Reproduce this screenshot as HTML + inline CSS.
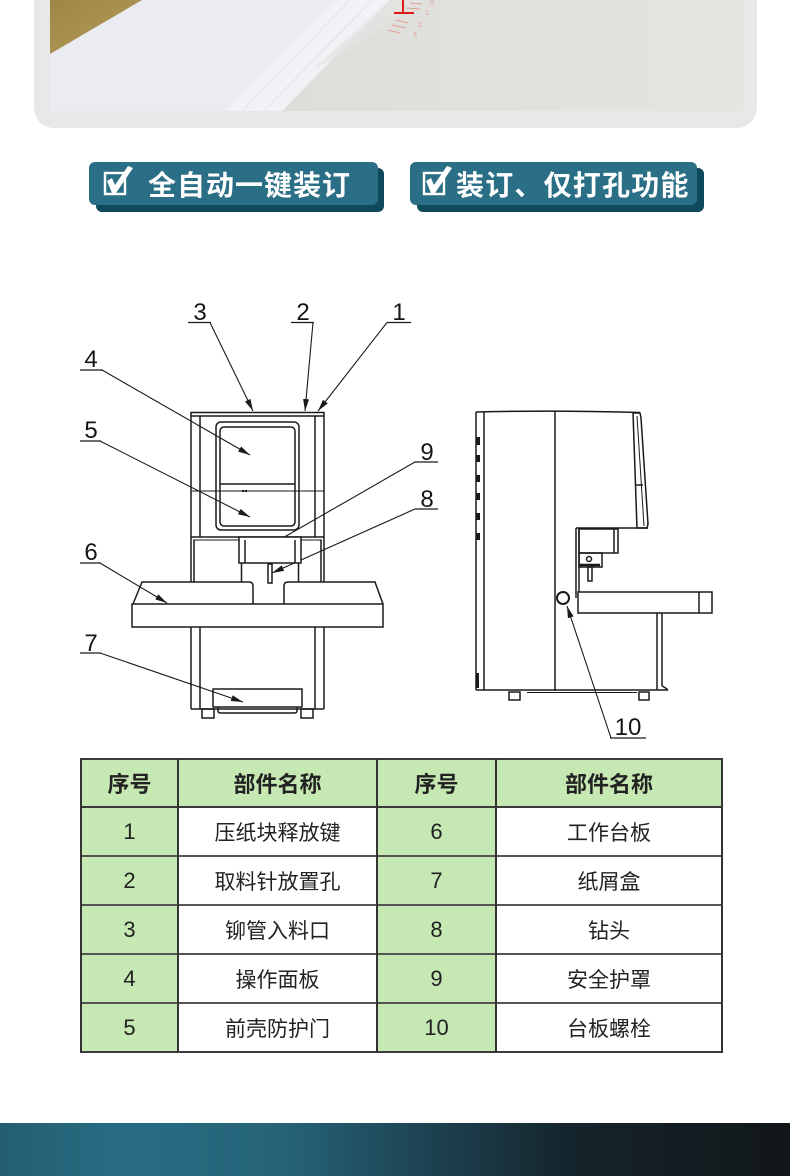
<!DOCTYPE html>
<html>
<head>
<meta charset="utf-8">
<style>
  html,body{margin:0;padding:0;}
  body{width:790px;height:1176px;position:relative;overflow:hidden;background:#fff;
       font-family:"Liberation Sans","Noto Sans CJK SC",sans-serif;}
  .abs{position:absolute;}
  .btnS{position:absolute;background:#0f4a5c;border-radius:6px;}
  .btnF{position:absolute;background:#2b6f86;border-radius:6px;}
  .btxt{position:absolute;color:#fff;font-size:28px;line-height:28px;font-weight:bold;letter-spacing:1px;
        font-family:"Noto Sans CJK SC","WenQuanYi Zen Hei",sans-serif;white-space:nowrap;}
  .cell{position:absolute;display:flex;align-items:center;justify-content:center;color:#222;}
  .g{background:#c6e8b3;}
  .hd{font-family:"Noto Sans CJK SC",sans-serif;font-weight:bold;font-size:22px;}
  .num{font-family:"Liberation Sans",sans-serif;font-size:22px;}
  .nm{font-family:"Liberation Sans","Noto Sans CJK SC",sans-serif;font-size:21px;}
  .hl{position:absolute;height:2px;background:#3a3a3a;}
  .vl{position:absolute;width:2px;background:#333;}
</style>
</head>
<body>

<!-- top photo card -->
<div class="abs" style="left:34px;top:-20px;width:723px;height:148px;background:#e8e8e6;border-radius:20px;"></div>
<svg class="abs" style="left:50px;top:0;" width="693" height="111" viewBox="0 0 693 111">
  <defs>
    <linearGradient id="bgG" x1="0" y1="0" x2="1" y2="0">
      <stop offset="0" stop-color="#d9d9d5"/>
      <stop offset="0.6" stop-color="#e0e0dc"/>
      <stop offset="1" stop-color="#e4e4e1"/>
    </linearGradient>
    <linearGradient id="goldG" x1="0" y1="0" x2="1" y2="1">
      <stop offset="0" stop-color="#9f8644"/>
      <stop offset="1" stop-color="#b29b5c"/>
    </linearGradient>
  </defs>
  <rect x="0" y="0" width="693" height="111" fill="url(#bgG)"/>
  <polygon points="0,0 340,0 232,111 0,111" fill="#ebebf2"/>
  <polygon points="285,0 340,0 232,111 175,111" fill="#f1f1f6"/>
  <line x1="300" y1="0" x2="192" y2="111" stroke="#e2e2ea" stroke-width="1"/>
  <line x1="322" y1="0" x2="214" y2="111" stroke="#e3e3ea" stroke-width="1"/>
  <polygon points="0,0 92,0 0,54" fill="url(#goldG)"/>
  <polygon points="340,0 372,0 300,50 262,70" fill="#e6e4e2" opacity="0.7"/>
  <!-- red marks -->
  <rect x="352" y="0" width="2" height="12" fill="#e01818"/>
  <rect x="344" y="12" width="20" height="2" fill="#e01818"/>
  <g stroke="#e0a394" stroke-width="1">
    <line x1="360" y1="3" x2="372" y2="4"/>
    <line x1="356" y1="8" x2="370" y2="9"/>
    <line x1="346" y1="20" x2="358" y2="23"/>
    <line x1="342" y1="25" x2="356" y2="28"/>
    <line x1="338" y1="30" x2="350" y2="33"/>
  </g>
  <g fill="#e0a394" font-size="7" font-family="Liberation Sans">
    <text x="380" y="5">0</text><text x="375" y="15">1</text><text x="368" y="27">2</text><text x="363" y="37">3</text>
  </g>
</svg>

<!-- buttons -->
<div class="btnS" style="left:96px;top:168px;width:288px;height:44px;"></div>
<div class="btnF" style="left:89px;top:162px;width:289px;height:43px;"></div>
<div class="btnS" style="left:417px;top:168px;width:287px;height:44px;"></div>
<div class="btnF" style="left:410px;top:162px;width:287px;height:43px;"></div>

<svg class="abs" style="left:0;top:0;" width="790" height="230">
  <g fill="none" stroke="#fff" stroke-width="2.4">
    <rect x="105" y="173" width="20" height="21"/>
    <rect x="424" y="173" width="20" height="21"/>
  </g>
  <g fill="#fff">
    <path d="M107,181 L112,178 L115,185 L128,166 L133,168 L116,193 L112,193 Z"/>
    <path d="M426,181 L431,178 L434,185 L447,166 L452,168 L435,193 L431,193 Z"/>
  </g>
</svg>
<div class="btxt" style="left:148px;top:170px;">全自动一键装订</div>
<div class="btxt" style="left:456px;top:170px;letter-spacing:1.2px;">装订、仅打孔功能</div>

<!-- diagram -->
<svg class="abs" style="left:0;top:0;" width="790" height="760" viewBox="0 0 790 760">
  <defs>
    <marker id="ar" viewBox="0 0 12 6" refX="12" refY="3" markerWidth="12" markerHeight="6" orient="auto" markerUnits="userSpaceOnUse">
      <path d="M0,0 L12,3 L0,6 Z" fill="#1a1a1a"/>
    </marker>
  </defs>

  <!-- labels -->
  <g font-family="Liberation Sans, sans-serif" font-size="24" fill="#151515" text-anchor="middle">
    <text x="200" y="320">3</text>
    <text x="303" y="320">2</text>
    <text x="399" y="320">1</text>
    <text x="91" y="367">4</text>
    <text x="91" y="438">5</text>
    <text x="91" y="560">6</text>
    <text x="91" y="651">7</text>
    <text x="427" y="460">9</text>
    <text x="427" y="507">8</text>
    <text x="628" y="735">10</text>
  </g>
  <g stroke="#1a1a1a" stroke-width="1.3" fill="none">
    <line x1="188" y1="322.5" x2="211" y2="322.5"/>
    <line x1="291" y1="322.5" x2="314" y2="322.5"/>
    <line x1="387" y1="322.5" x2="411" y2="322.5"/>
    <line x1="80" y1="370" x2="103" y2="370"/>
    <line x1="80" y1="441" x2="101" y2="441"/>
    <line x1="80" y1="563" x2="101" y2="563"/>
    <line x1="80" y1="653" x2="101" y2="653"/>
    <line x1="415" y1="462" x2="438" y2="462"/>
    <line x1="415" y1="509" x2="438" y2="509"/>
    <line x1="610" y1="738" x2="646" y2="738"/>
  </g>
  <g stroke="#1a1a1a" stroke-width="1.1" fill="none" marker-end="url(#ar)">
    <line x1="210" y1="322.5" x2="253" y2="411"/>
    <line x1="313" y1="322.5" x2="305" y2="411"/>
    <line x1="387" y1="322.5" x2="318" y2="411"/>
    <line x1="102" y1="370" x2="250" y2="455"/>
    <line x1="100" y1="441" x2="250" y2="517"/>
    <line x1="415" y1="462" x2="267" y2="547"/>
    <line x1="415" y1="509" x2="272" y2="573"/>
    <line x1="100" y1="563" x2="167" y2="603"/>
    <line x1="100" y1="653" x2="243" y2="702"/>
    <line x1="611" y1="738" x2="567" y2="606"/>
  </g>

  <!-- FRONT VIEW -->
  <g stroke="#1a1a1a" stroke-width="1.5" fill="none">
    <line x1="190.5" y1="412.5" x2="324.5" y2="412.5"/>
    <line x1="191" y1="416" x2="324" y2="416"/>
    <line x1="191" y1="412" x2="191" y2="537"/>
    <line x1="324" y1="412" x2="324" y2="537"/>
    <line x1="200" y1="416" x2="200" y2="537"/>
    <line x1="315" y1="416" x2="315" y2="537"/>
    <rect x="216" y="422" width="83" height="108" rx="5"/>
    <rect x="220" y="427" width="75" height="99" rx="4"/>
    <line x1="220" y1="484" x2="295" y2="484"/>
    <line x1="191" y1="491" x2="324" y2="491" stroke-width="1"/>
    <line x1="191" y1="537" x2="324" y2="537"/>
    <line x1="193" y1="540" x2="322" y2="540" stroke-width="1"/>
    <line x1="191" y1="537" x2="191" y2="582"/>
    <line x1="194" y1="540" x2="194" y2="582"/>
    <line x1="321" y1="540" x2="321" y2="582"/>
    <line x1="324" y1="537" x2="324" y2="582"/>
    <rect x="239" y="537" width="62" height="26" fill="#fff"/>
    <line x1="245" y1="540" x2="245" y2="563"/>
    <line x1="295" y1="540" x2="295" y2="563"/>
    <line x1="241.5" y1="563" x2="241.5" y2="582"/>
    <line x1="298.5" y1="563" x2="298.5" y2="582"/>
    <rect x="268" y="564" width="4" height="19" fill="#fff"/>
    <path d="M133,604 L142,582 L249,582 Q253,582 253,586 L253,604"/>
    <path d="M284,604 L284,586 Q284,582 288,582 L375,582 L383,604"/>
    <rect x="132" y="604" width="251" height="23"/>
    <line x1="191" y1="627" x2="191" y2="709"/>
    <line x1="200" y1="627" x2="200" y2="709"/>
    <line x1="315" y1="627" x2="315" y2="709"/>
    <line x1="324" y1="627" x2="324" y2="709"/>
    <line x1="191" y1="709" x2="324" y2="709"/>
    <rect x="213" y="689" width="89" height="18"/>
    <path d="M218,707 L218,711 Q218,713 221,713 L294,713 Q297,713 297,711 L297,707"/>
    <rect x="202" y="709" width="12" height="9"/>
    <rect x="301" y="709" width="12" height="9"/>
  </g>
  <g fill="#1a1a1a"><rect x="242" y="490" width="2" height="2"/><rect x="245" y="490" width="2" height="2"/></g>

  <!-- SIDE VIEW -->
  <g stroke="#1a1a1a" stroke-width="1.5" fill="none">
    <path d="M476,412 Q555,410 640,412.5"/>
    <line x1="476" y1="412" x2="476" y2="690"/>
    <line x1="484" y1="412" x2="484" y2="690"/>
    <line x1="555" y1="411" x2="555" y2="691"/>
    <path d="M633,413 L640,413 L641,418 L648,524 L647,528 L637,528 Z"/>
    <line x1="637" y1="416" x2="644" y2="526" stroke-width="1"/>
    <line x1="635" y1="485" x2="643" y2="485"/>
    <line x1="576" y1="528" x2="648" y2="528"/>
    <line x1="576" y1="528" x2="576" y2="598"/>
    <line x1="579" y1="529" x2="579" y2="592"/>
    <rect x="579" y="529" width="39" height="24"/>
    <line x1="614" y1="529" x2="614" y2="553"/>
    <rect x="579" y="553" width="23" height="14"/>
    <circle cx="589" cy="559" r="2.5"/>
    <line x1="579" y1="565" x2="600" y2="565" stroke-width="2.5"/>
    <rect x="588" y="567" width="4" height="14"/>
    <rect x="578" y="592" width="134" height="21" fill="#fff"/>
    <line x1="699" y1="592" x2="699" y2="613"/>
    <line x1="657" y1="613" x2="657" y2="690"/>
    <line x1="662" y1="613" x2="662" y2="686"/>
    <path d="M662,686 Q666,688 668,690"/>
    <line x1="476" y1="690" x2="668" y2="690"/>
    <line x1="527" y1="692.5" x2="637" y2="692.5" stroke-width="1"/>
    <rect x="509" y="692" width="11" height="8"/>
    <rect x="639" y="692" width="10" height="8"/>
    <circle cx="563" cy="598" r="6" stroke-width="2"/>
  </g>
  <g fill="#1a1a1a">
    <rect x="476" y="437" width="4" height="8"/>
    <rect x="476" y="455" width="4" height="7"/>
    <rect x="476" y="475" width="4" height="7"/>
    <rect x="476" y="493" width="4" height="7"/>
    <rect x="476" y="513" width="4" height="7"/>
    <rect x="476" y="533" width="4" height="7"/>
    <rect x="476" y="673" width="3" height="15"/>
  </g>
</svg>

<!-- TABLE -->
<!-- backgrounds -->
<div class="abs g" style="left:81px;top:759px;width:641px;height:48px;"></div>
<div class="abs g" style="left:81px;top:807px;width:97px;height:245px;"></div>
<div class="abs g" style="left:377px;top:807px;width:119px;height:245px;"></div>

<!-- header -->
<div class="cell hd" style="left:81px;top:759px;width:97px;height:48px;">序号</div>
<div class="cell hd" style="left:178px;top:759px;width:199px;height:48px;">部件名称</div>
<div class="cell hd" style="left:377px;top:759px;width:119px;height:48px;">序号</div>
<div class="cell hd" style="left:496px;top:759px;width:226px;height:48px;">部件名称</div>

<!-- rows -->
<div class="cell num" style="left:81px;top:807px;width:97px;height:49px;">1</div>
<div class="cell nm" style="left:178px;top:807px;width:199px;height:49px;">压纸块释放键</div>
<div class="cell num" style="left:377px;top:807px;width:119px;height:49px;">6</div>
<div class="cell nm" style="left:496px;top:807px;width:226px;height:49px;">工作台板</div>

<div class="cell num" style="left:81px;top:856px;width:97px;height:49px;">2</div>
<div class="cell nm" style="left:178px;top:856px;width:199px;height:49px;">取料针放置孔</div>
<div class="cell num" style="left:377px;top:856px;width:119px;height:49px;">7</div>
<div class="cell nm" style="left:496px;top:856px;width:226px;height:49px;">纸屑盒</div>

<div class="cell num" style="left:81px;top:905px;width:97px;height:49px;">3</div>
<div class="cell nm" style="left:178px;top:905px;width:199px;height:49px;">铆管入料口</div>
<div class="cell num" style="left:377px;top:905px;width:119px;height:49px;">8</div>
<div class="cell nm" style="left:496px;top:905px;width:226px;height:49px;">钻头</div>

<div class="cell num" style="left:81px;top:954px;width:97px;height:49px;">4</div>
<div class="cell nm" style="left:178px;top:954px;width:199px;height:49px;">操作面板</div>
<div class="cell num" style="left:377px;top:954px;width:119px;height:49px;">9</div>
<div class="cell nm" style="left:496px;top:954px;width:226px;height:49px;">安全护罩</div>

<div class="cell num" style="left:81px;top:1003px;width:97px;height:49px;">5</div>
<div class="cell nm" style="left:178px;top:1003px;width:199px;height:49px;">前壳防护门</div>
<div class="cell num" style="left:377px;top:1003px;width:119px;height:49px;">10</div>
<div class="cell nm" style="left:496px;top:1003px;width:226px;height:49px;">台板螺栓</div>

<!-- grid lines -->
<div class="hl" style="left:80px;top:758px;width:643px;"></div>
<div class="hl" style="left:80px;top:806px;width:643px;"></div>
<div class="hl" style="left:80px;top:855px;width:643px;background:#555;"></div>
<div class="hl" style="left:80px;top:904px;width:643px;background:#555;"></div>
<div class="hl" style="left:80px;top:953px;width:643px;background:#555;"></div>
<div class="hl" style="left:80px;top:1002px;width:643px;background:#555;"></div>
<div class="hl" style="left:80px;top:1051px;width:643px;"></div>
<div class="vl" style="left:80px;top:758px;height:295px;"></div>
<div class="vl" style="left:177px;top:758px;height:295px;"></div>
<div class="vl" style="left:376px;top:758px;height:295px;"></div>
<div class="vl" style="left:495px;top:758px;height:295px;"></div>
<div class="vl" style="left:721px;top:758px;height:295px;"></div>

<!-- bottom gradient band -->
<div class="abs" style="left:0;top:1123px;width:790px;height:53px;
  background:linear-gradient(90deg,#245e72 0%,#286c82 15%,#266479 35%,#1d4150 55%,#15252c 72%,#111618 100%);"></div>

</body>
</html>
